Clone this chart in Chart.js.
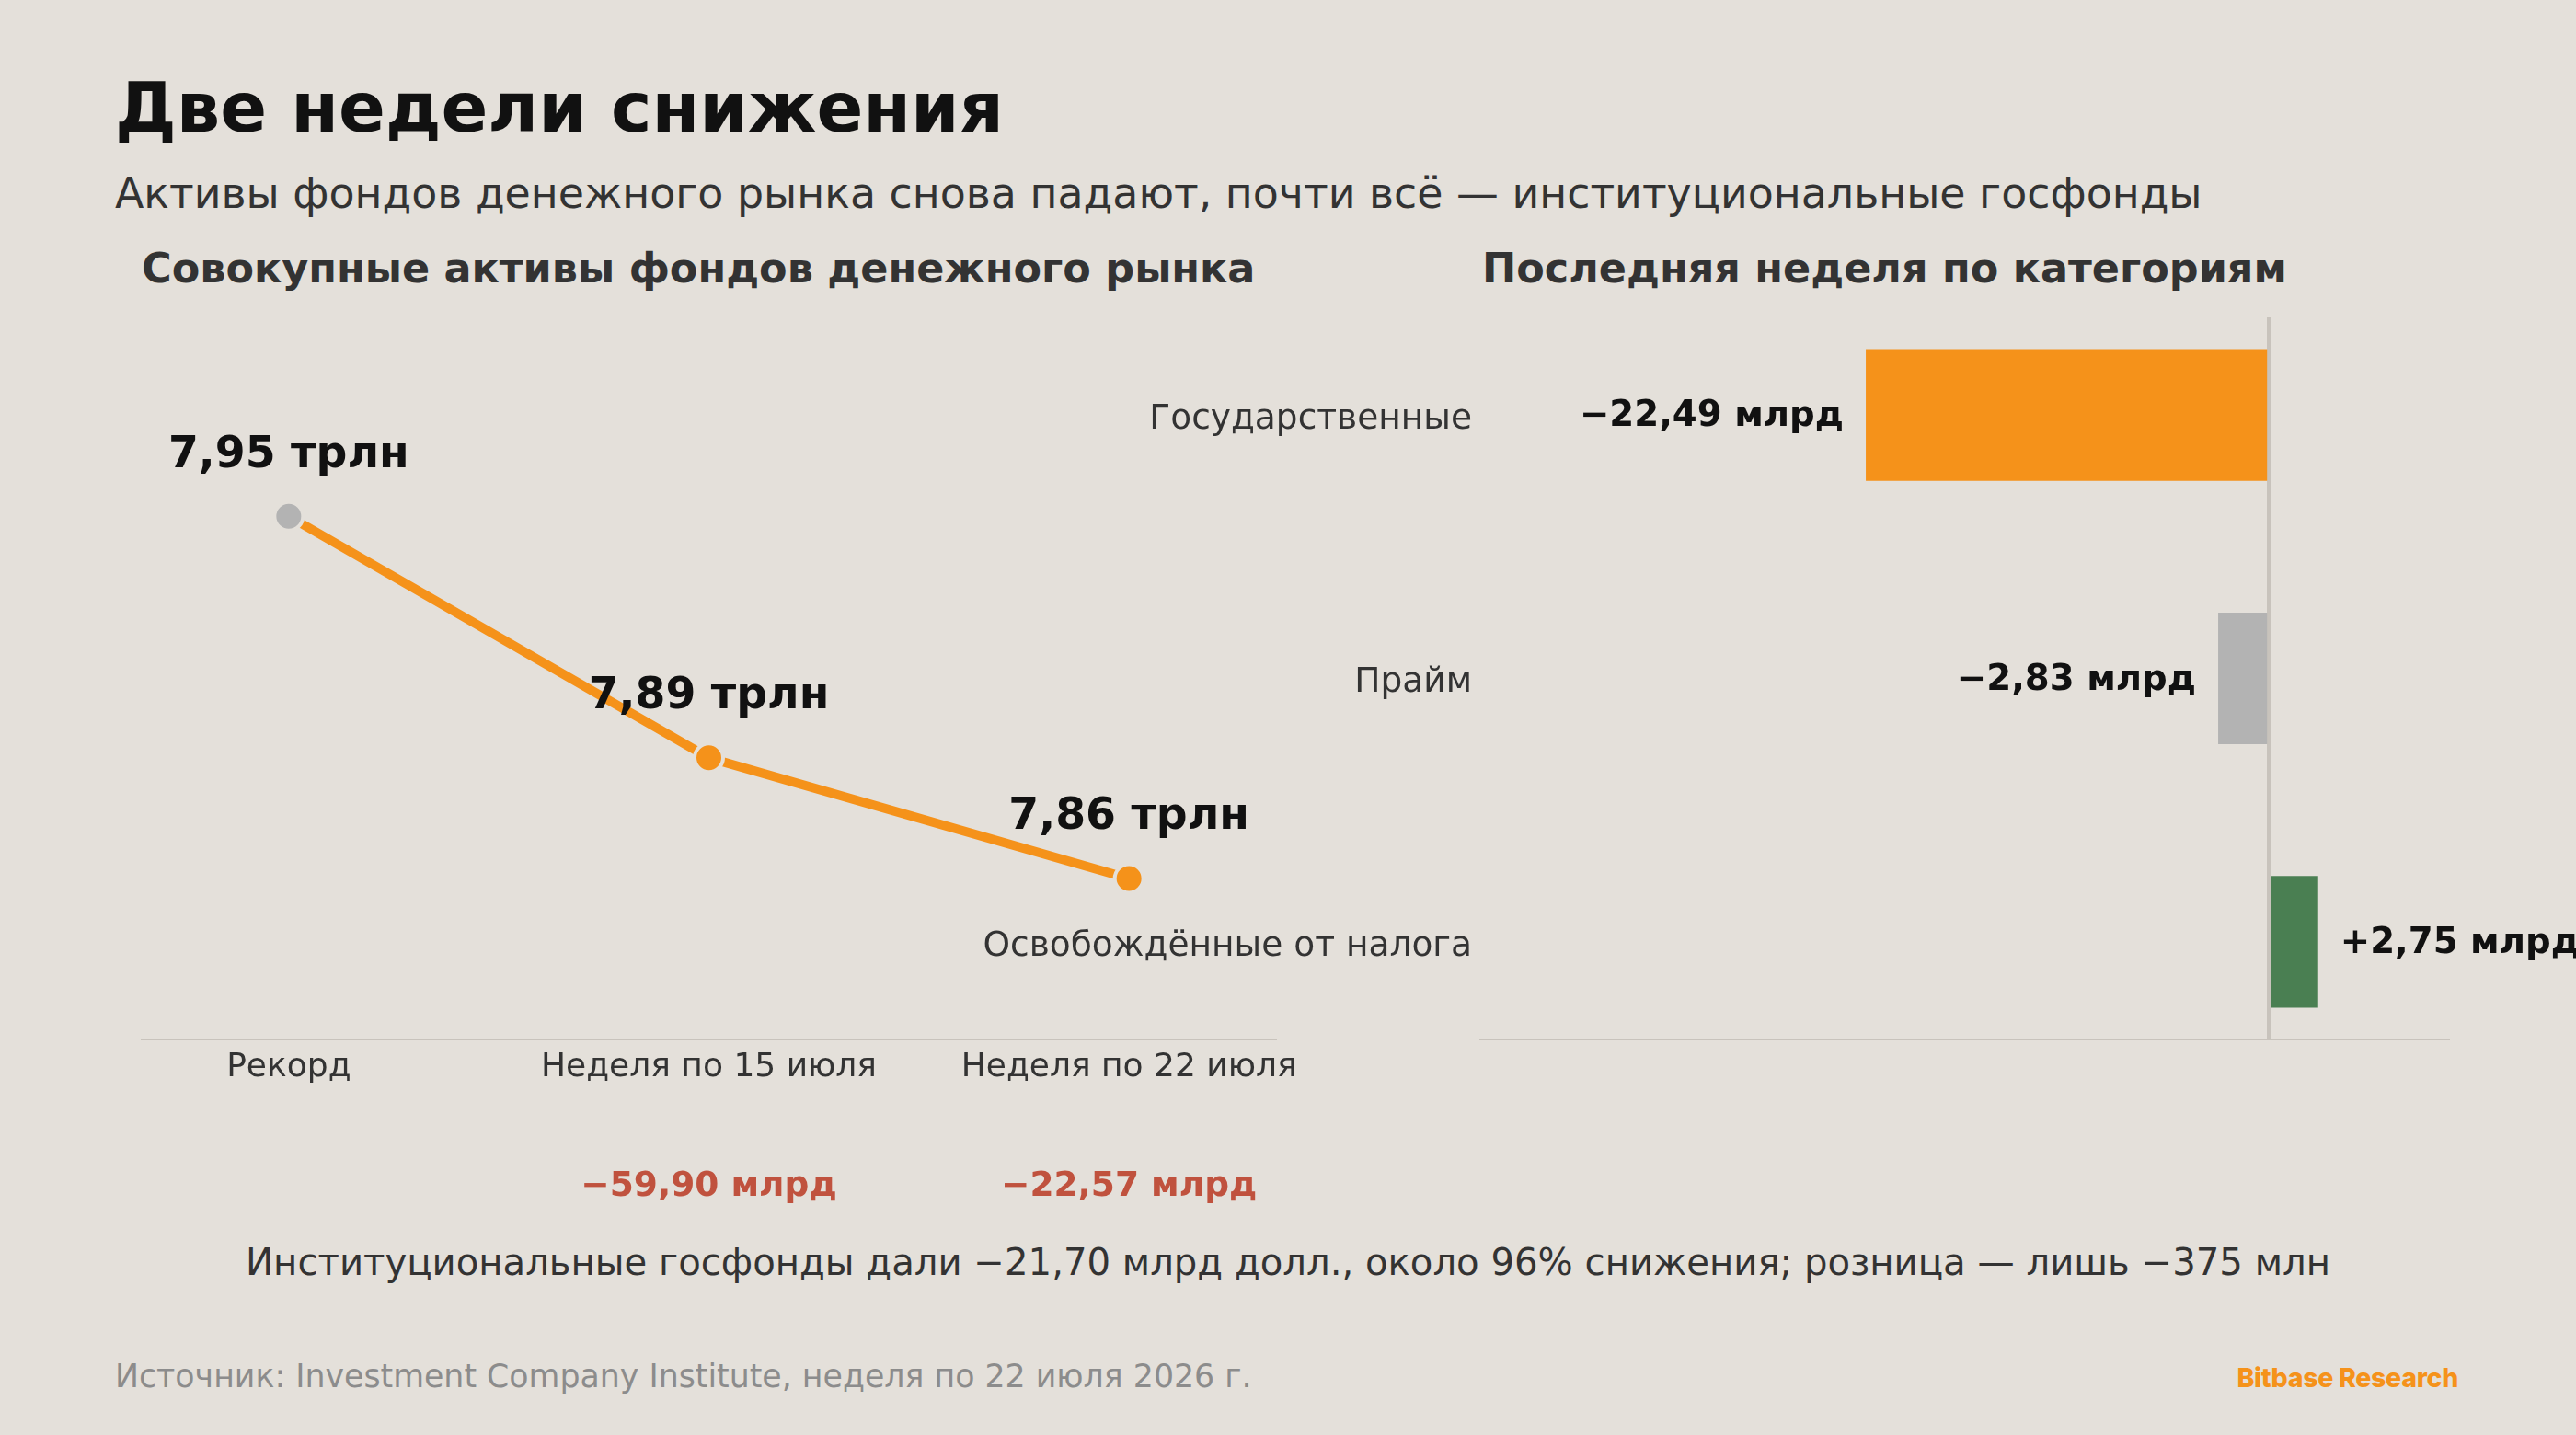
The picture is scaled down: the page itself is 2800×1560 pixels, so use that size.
<!DOCTYPE html>
<html><head><meta charset="utf-8">
<script src="https://cdn.jsdelivr.net/npm/chart.js@4.4.1/dist/chart.umd.min.js"></script>
<style>
html,body{margin:0;padding:0;background:#E4E0DA;}
#wrap{position:relative;width:2800px;height:1560px;overflow:hidden;font-family:"DejaVu Sans";background:#E4E0DA;}
.t{position:absolute;line-height:1;white-space:nowrap;}
canvas{position:absolute;}
</style></head><body>
<div id="wrap">
<div class="t" style="left:125px;top:80px;font-size:75px;font-weight:bold;color:#111">Две недели снижения</div>
<div class="t" style="left:125px;top:188px;font-size:45.85px;color:#333">Активы фондов денежного рынка снова падают, почти всё — институциональные госфонды</div>
<div class="t" style="left:154px;top:270px;font-size:44.5px;font-weight:bold;color:#333">Совокупные активы фондов денежного рынка</div>
<div class="t" style="left:1611px;top:270px;font-size:44.5px;font-weight:bold;color:#333">Последняя неделя по категориям</div>
<div class="t" style="left:0;width:2800px;text-align:center;top:1352px;font-size:40.2px;color:#333">Институциональные госфонды дали −21,70 млрд долл., около 96% снижения; розница — лишь −375 млн</div>
<div class="t" style="left:125px;top:1479px;font-size:34.75px;color:#8C8C8C">Источник: Investment Company Institute, неделя по 22 июля 2026 г.</div>
<div class="t" style="right:128px;top:1484px;font-size:28.5px;font-weight:800;color:#F5921A;font-family:Inter,'Open Sans',sans-serif;letter-spacing:-0.3px">Bitbase Research</div>
<canvas id="line" width="1340" height="1050" style="left:100px;top:300px"></canvas>
<canvas id="bar" width="1800" height="1050" style="left:1000px;top:300px"></canvas>
</div>
<script>
// ---- data ----
const periods = ["Рекорд", "Неделя по 15 июля", "Неделя по 22 июля"];
const totalAssets = [7.95, 7.89, 7.86];          // трлн долл.
const weeklyChange = [null, -59.90, -22.57];      // млрд долл.
const categories = ["Государственные", "Прайм", "Освобождённые от налога"];
const categoryFlows = [-22.49, -2.83, 2.75];     // млрд долл.

// ---- styles ----
const BG = '#E4E0DA', ORANGE = '#F5921A', GREY = '#B3B3B3', GREEN = '#4A7F52';
const AXIS = '#C8C3BC', RED = '#C0523E', FONT = 'DejaVu Sans';
const fmt = (v, d) => v.toFixed(d).replace('.', ',');
const signed = v => (v < 0 ? '−' : '+') + fmt(Math.abs(v), 2);

Chart.defaults.font.family = FONT;

const lineLabels = {
  id: 'lineLabels',
  afterDatasetsDraw(chart) {
    const ctx = chart.ctx;
    const meta = chart.getDatasetMeta(0);
    ctx.save();
    ctx.textAlign = 'center';
    ctx.textBaseline = 'middle';
    ctx.fillStyle = '#111';
    ctx.font = 'bold 47.3px "' + FONT + '"';
    meta.data.forEach((pt, i) => {
      ctx.fillText(fmt(totalAssets[i], 2) + ' трлн', pt.x, pt.y - 66);
    });
    ctx.font = 'bold 37.5px "' + FONT + '"';
    ctx.fillStyle = RED;
    const xs = chart.scales.x;
    weeklyChange.forEach((v, i) => {
      if (v === null) return;
      ctx.fillText(signed(v) + ' млрд', xs.getPixelForValue(i), chart.chartArea.bottom + 160);
    });
    ctx.restore();
  }
};

new Chart(document.getElementById('line'), {
  type: 'line',
  data: {
    datasets: [{
      data: totalAssets.map((v, i) => ({ x: i, y: v })),
      borderColor: ORANGE,
      borderWidth: 10,
      tension: 0,
      pointRadius: 15.5,
      pointBorderWidth: 4,
      pointBorderColor: BG,
      pointBackgroundColor: totalAssets.map((v, i) => i === 0 ? GREY : ORANGE),
      clip: false
    }]
  },
  options: {
    responsive: false, animation: false, events: [],
    layout: { padding: { left: 54, right: 53, top: 42.5, bottom: 0 } },
    plugins: { legend: { display: false }, tooltip: { enabled: false } },
    scales: {
      x: {
        type: 'linear', min: -0.35, max: 2.35, offset: false,
        afterBuildTicks: s => { s.ticks = periods.map((p, i) => ({ value: i })); },
        ticks: { callback: v => periods[v], font: { size: 36 }, color: '#333', padding: 9, maxRotation: 0, autoSkip: false },
        grid: { display: false, drawTicks: false },
        border: { display: true, color: AXIS, width: 2 },
        afterFit: s => { s.height = 220; }
      },
      y: { display: false, min: 7.82, max: 8.0 }
    }
  },
  plugins: [lineLabels]
});

const barLabels = {
  id: 'barLabels',
  afterDatasetsDraw(chart) {
    const ctx = chart.ctx;
    const meta = chart.getDatasetMeta(0);
    ctx.save();
    ctx.textBaseline = 'middle';
    ctx.fillStyle = '#111';
    ctx.font = 'bold 38.7px "' + FONT + '"';
    meta.data.forEach((bar, i) => {
      const v = categoryFlows[i];
      ctx.textAlign = v < 0 ? 'right' : 'left';
      ctx.fillText(signed(v) + ' млрд', bar.x + (v < 0 ? -24 : 24), bar.y + 2);
    });
    ctx.restore();
  }
};

new Chart(document.getElementById('bar'), {
  type: 'bar',
  data: {
    datasets: [{
      data: categoryFlows.map((v, i) => ({ x: v, y: i })),
      backgroundColor: [ORANGE, GREY, GREEN],
      borderWidth: 0,
      barPercentage: 0.5,
      categoryPercentage: 1
    }]
  },
  options: {
    indexAxis: 'y',
    responsive: false, animation: false, events: [],
    layout: { padding: { left: 0, right: 139, top: 45, bottom: 0 } },
    plugins: { legend: { display: false }, tooltip: { enabled: false } },
    scales: {
      x: {
        type: 'linear', min: -44, max: 10, offset: false,
        afterBuildTicks: s => { s.ticks = [{ value: 0 }]; },
        ticks: { display: false },
        grid: { display: true, offset: false, color: AXIS, lineWidth: 4, drawTicks: false },
        border: { display: true, color: AXIS, width: 2 },
        afterFit: s => { s.height = 220; }
      },
      y: {
        type: 'linear', reverse: true, min: -0.37, max: 2.37, offset: false,
        afterBuildTicks: s => { s.ticks = categories.map((c, i) => ({ value: i })); },
        ticks: { callback: v => categories[v], font: { size: 37.5 }, color: '#333', padding: 9, labelOffset: 5, autoSkip: false },
        grid: { display: false, offset: false, drawTicks: false },
        border: { display: false },
        afterFit: s => { s.width = 609; }
      }
    }
  },
  plugins: [barLabels]
});
</script>
</body></html>
